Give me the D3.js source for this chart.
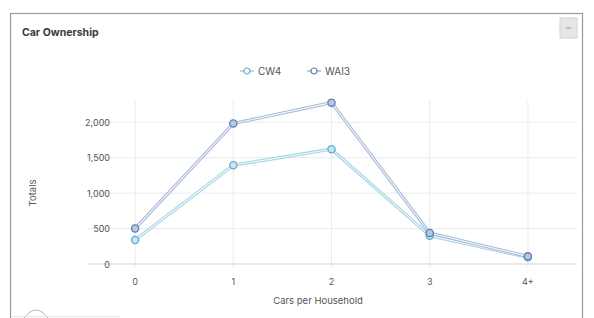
<!DOCTYPE html>
<html>
<head>
<meta charset="utf-8" />
<style>
  html, body { margin: 0; padding: 0; background: #fff; }
  body { font-family: "Inter", "Lato", sans-serif; }
  svg text { fill: #555; }
</style>
</head>
<body>
<div id="container"></div>
<script src="https://d3js.org/d3.v7.min.js"></script>
<script>
  // DATA
  const categories = ["0", "1", "2", "3", "4+"];
  const cw4 = [338, 1394, 1620, 400, 95];
  const wai3 = [500, 1982, 2277, 438, 108];
  const yTicks = [0, 500, 1000, 1500, 2000];
  const seriesNames = ["CW4", "WAI3"];

  const W = 594, H = 318;
  const series = [
    { name: seriesNames[0], values: cw4, color: "#a3d3e4", stroke: "#6aa9c8", fill: "#c3e6f2" },
    { name: seriesNames[1], values: wai3, color: "#a7b9d6", stroke: "#5f7fae", fill: "#b7c8e3" },
  ];

  const svg = d3.select("#container").append("svg")
    .attr("width", W).attr("height", H);

  // CARD
  svg.append("rect")
    .attr("x", 10.5).attr("y", 13.5)
    .attr("width", 572).attr("height", 330)
    .attr("fill", "#fff")
    .attr("stroke", "#9a9a9a")
    .attr("stroke-width", 1.2);

  svg.append("text")
    .attr("x", 22).attr("y", 36)
    .style("font-size", "10.5px").style("font-weight", "700")
    .style("fill", "#3a3a3a")
    .text("Car Ownership");

  // minus button
  svg.append("rect")
    .attr("x", 560).attr("y", 18).attr("width", 17).attr("height", 20)
    .attr("fill", "#e6e6e6").attr("stroke", "#d4d4d4");
  svg.append("line")
    .attr("x1", 566).attr("x2", 571).attr("y1", 28).attr("y2", 28)
    .attr("stroke", "#999").attr("stroke-width", 1);

  // SCALES
  const x = d3.scaleBand().domain(categories).range([86, 577]);
  const cx = (d) => x(d) + x.bandwidth() / 2;
  const y = d3.scaleLinear().domain([0, 2300]).range([264, 101]);

  // GRID
  svg.append("g").selectAll("line").data(yTicks.slice(1)).join("line")
    .attr("x1", 87).attr("x2", 577)
    .attr("y1", (d) => y(d)).attr("y2", (d) => y(d))
    .attr("stroke", "#ebebeb").attr("stroke-width", 1);

  svg.append("g").selectAll("line").data(categories).join("line")
    .attr("x1", cx).attr("x2", cx)
    .attr("y1", 100).attr("y2", 268)
    .attr("stroke", "#ebebeb").attr("stroke-width", 1);

  svg.append("line")
    .attr("x1", 87).attr("x2", 577)
    .attr("y1", y(0)).attr("y2", y(0))
    .attr("stroke", "#d6d6d6").attr("stroke-width", 1.2);

  // AXES LABELS
  svg.append("g").selectAll("text").data(yTicks).join("text")
    .attr("x", 110).attr("y", (d) => y(d) + 3.5)
    .attr("text-anchor", "end")
    .style("font-size", "9px")
    .text((d) => d3.format(",")(d));

  svg.append("g").selectAll("text").data(categories).join("text")
    .attr("x", cx).attr("y", 285)
    .attr("text-anchor", "middle")
    .style("font-size", "9px")
    .text((d) => d);

  svg.append("text")
    .attr("transform", "translate(36," + 193 + ") rotate(-90)")
    .attr("text-anchor", "middle")
    .style("font-size", "9.5px")
    .text("Totals");

  svg.append("text")
    .attr("x", 318).attr("y", 304)
    .attr("text-anchor", "middle")
    .style("font-size", "9.5px")
    .text("Cars per Household");

  // LINES
  const line = d3.line()
    .x((d, i) => cx(categories[i]))
    .y((d) => y(d));

  series.forEach((s) => {
    svg.append("path")
      .attr("d", line(s.values))
      .attr("fill", "none")
      .attr("stroke", s.color)
      .attr("stroke-width", 3.2)
      .attr("stroke-linejoin", "round");
    svg.append("path")
      .attr("d", line(s.values))
      .attr("fill", "none")
      .attr("stroke", "#f4f8fb")
      .attr("stroke-width", 1.1)
      .attr("stroke-linejoin", "round");
  });

  series.forEach((s) => {
    svg.append("g").selectAll("circle").data(s.values).join("circle")
      .attr("cx", (d, i) => cx(categories[i]))
      .attr("cy", (d) => y(d))
      .attr("r", 3.6)
      .attr("fill", s.fill)
      .attr("stroke", s.stroke)
      .attr("stroke-width", 1.3);
  });

  // LEGEND
  const legend = svg.append("g").selectAll("g").data(series).join("g")
    .attr("transform", (d, i) => "translate(240," + 71 + ") translate(" + i * 67 + ",0)");
  legend.append("line")
    .attr("x1", 0).attr("x2", 14).attr("y1", 0).attr("y2", 0)
    .attr("stroke", (d) => d.color).attr("stroke-width", 1.5);
  legend.append("circle")
    .attr("cx", 7).attr("cy", 0).attr("r", 3)
    .attr("fill", "#fff").attr("stroke", (d) => d.stroke).attr("stroke-width", 1.2);
  legend.append("text")
    .attr("x", 18).attr("y", 3.5)
    .style("font-size", "10px")
    .text((d) => d.name);

  // bottom decoration
  svg.append("path")
    .attr("d", "M24,318 Q36,302 48,318")
    .attr("fill", "none").attr("stroke", "#bbb").attr("stroke-width", 1);
  svg.append("line")
    .attr("x1", 12).attr("x2", 120).attr("y1", 316.5).attr("y2", 316.5)
    .attr("stroke", "#e4e4e4");
</script>
</body>
</html>
